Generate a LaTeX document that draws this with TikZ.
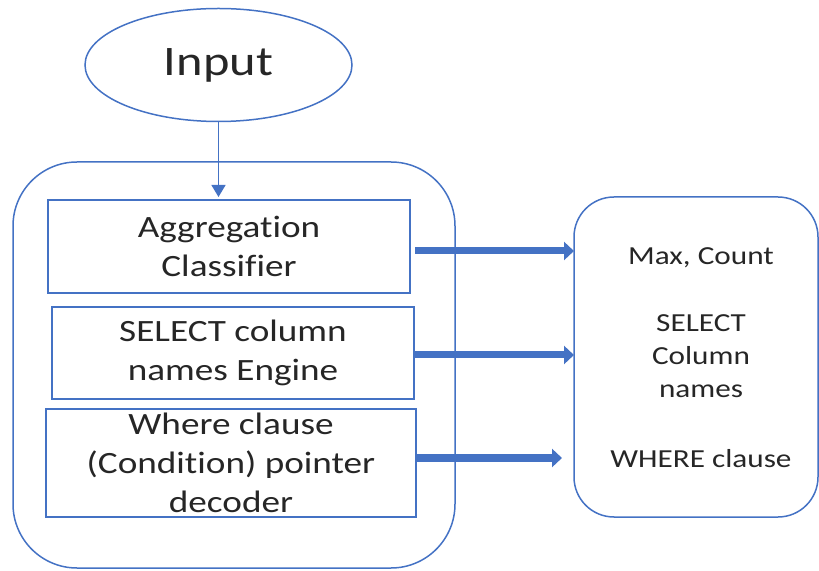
\documentclass[tikz,border=0pt]{standalone}
\usepackage{fontspec}
\setmainfont{Carlito}[FakeStretch=1.2, Ligatures=NoCommon]
\usepackage{xcolor}
\usetikzlibrary{arrows.meta, positioning, calc, shapes}

\definecolor{officeblue}{HTML}{4472C4}

\begin{document}
\begin{tikzpicture}[x=0.5pt, y=-0.5pt,
	every node/.style={inner sep=0pt, outer sep=0pt, text=black!85},
	thinline/.style={draw=officeblue, line width=0.75pt},
	boxtext/.style={align=center, font=\fontsize{15.5}{19.5}\selectfont},
	outtext/.style={align=center, font=\fontsize{13}{16.5}\selectfont},
	fatarrow/.style={officeblue, line width=3.5pt, -{Triangle[width=9pt, length=5pt]}}]
	
	% Frame
	\useasboundingbox (0,0) rectangle (819,571);
	
	% Input
	\node[thinline, ellipse, minimum width=133.5pt, minimum height=56.5pt,
	font=\fontsize{21}{25}\selectfont] (input) at (218.5,65) {Input};
	
	% Engine and its three parts
	\node[thinline, rounded corners=32pt, minimum width=221pt, minimum height=203pt] (engine) at (234,365) {};
	\node[thinline, boxtext, minimum width=181pt, minimum height=46.5pt] (agg) at (229,246.5) {Aggregation\\Classifier};
	\node[thinline, boxtext, minimum width=181pt, minimum height=46pt] (sel) at (233,353) {SELECT column\\names Engine};
	\node[thinline, boxtext, minimum width=185pt, minimum height=54pt] (where) at (231,463) {Where clause\\(Condition) pointer\\decoder};
	
	% Output
	\node[thinline, rounded corners=20pt, minimum width=122pt, minimum height=160pt] (out) at (696,357) {};
	\node[outtext, anchor=base] (maxcnt) at (701,265) {Max, Count};
	\node[outtext, anchor=base] (selcol) at (701,398) {SELECT\\Column\\names};
	\node[outtext, anchor=base] (wherecl) at (701,467) {WHERE clause};
	
	% Connectors
	\draw[officeblue, line width=0.75pt, -{Triangle[width=7pt, length=6pt]}, shorten >=1.5pt] (input.south) -- (input.south |- agg.north);
	\draw[fatarrow] ($(agg.east)+(5,4.5)$) -- ($(agg.east -| out.west)+(0,4.5)$);
	\draw[fatarrow] ($(sel.east)+(1,2)$) -- ($(sel.east -| out.west)+(0,2)$);
	\draw[fatarrow] ($(where.east)+(0,-5)$) -- ($(where.east -| out.west)+(-12,-5)$);
\end{tikzpicture}
\end{document}
